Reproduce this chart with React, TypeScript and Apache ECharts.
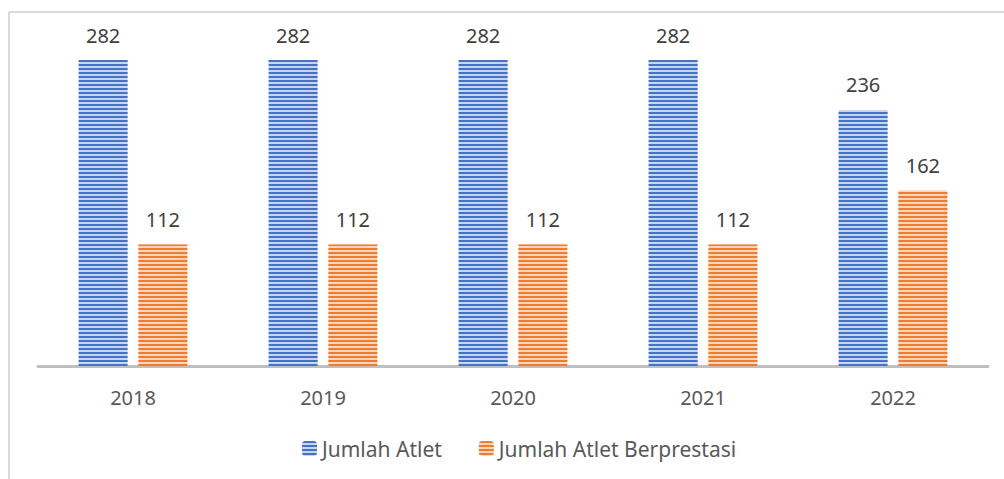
import React, { useEffect, useRef } from "react";
import * as echarts from "echarts";

const categories = ["2018", "2019", "2020", "2021", "2022"];
const jumlahAtlet = [282, 282, 282, 282, 236];
const jumlahBerprestasi = [112, 112, 112, 112, 162];
const seriesNames = ["Jumlah Atlet", "Jumlah Atlet Berprestasi"];

const FONT = "'Noto Sans', 'Open Sans', sans-serif";

export default function App() {
  const ref = useRef<HTMLDivElement>(null);
  useEffect(() => {
    if (!ref.current) return;
    const chart = echarts.init(ref.current, undefined, { renderer: "svg" });
    const stripe = (base: string, dark: string) => ({
      color: base,
      decal: {
        symbol: "rect",
        symbolSize: 1,
        color: dark,
        dashArrayX: [1, 0],
        dashArrayY: [2, 2],
        rotation: 0,
      },
    });
    chart.setOption({
      animation: false,
      backgroundColor: "#ffffff",
      graphic: [
        { type: "line", shape: { x1: 9, y1: 12, x2: 1004, y2: 12 }, style: { stroke: "#d9d9d9", lineWidth: 2 } },
        { type: "line", shape: { x1: 9, y1: 12, x2: 9, y2: 479 }, style: { stroke: "#d9d9d9", lineWidth: 2 } },
      ],
      grid: { left: 38, right: 16, top: 40.5, bottom: 113, containLabel: false },
      legend: {
        bottom: 15,
        left: 297,
        itemWidth: 15,
        itemHeight: 15,
        itemGap: 37,
        textStyle: { color: "#595959", fontSize: 21, fontFamily: FONT, padding: [0, 0, 0, 0] },
        data: seriesNames,
      },
      xAxis: {
        type: "category",
        data: categories,
        axisLine: { show: true, lineStyle: { color: "#bfbfbf", width: 3 } },
        axisTick: { show: false },
        axisLabel: { color: "#595959", fontSize: 20, fontFamily: FONT, margin: 21 },
      },
      yAxis: {
        type: "value",
        min: 0,
        max: 300,
        show: false,
        splitLine: { show: false },
      },
      series: [
        {
          name: seriesNames[0],
          type: "bar",
          data: jumlahAtlet,
          barWidth: 49,
          barGap: "22%",
          itemStyle: stripe("#c8d5ee", "#4472c4"),
          label: { show: true, position: "top", distance: 15, color: "#404040", fontSize: 20, fontFamily: FONT },
        },
        {
          name: seriesNames[1],
          type: "bar",
          data: jumlahBerprestasi,
          barWidth: 49,
          itemStyle: stripe("#fbd6bd", "#ed7d31"),
          label: { show: true, position: "top", distance: 15, color: "#404040", fontSize: 20, fontFamily: FONT },
        },
      ],
    });
    return () => chart.dispose();
  }, []);
  return <div ref={ref} style={{ width: 1004, height: 479, position: "absolute", left: 0, top: 0 }} />;
}
